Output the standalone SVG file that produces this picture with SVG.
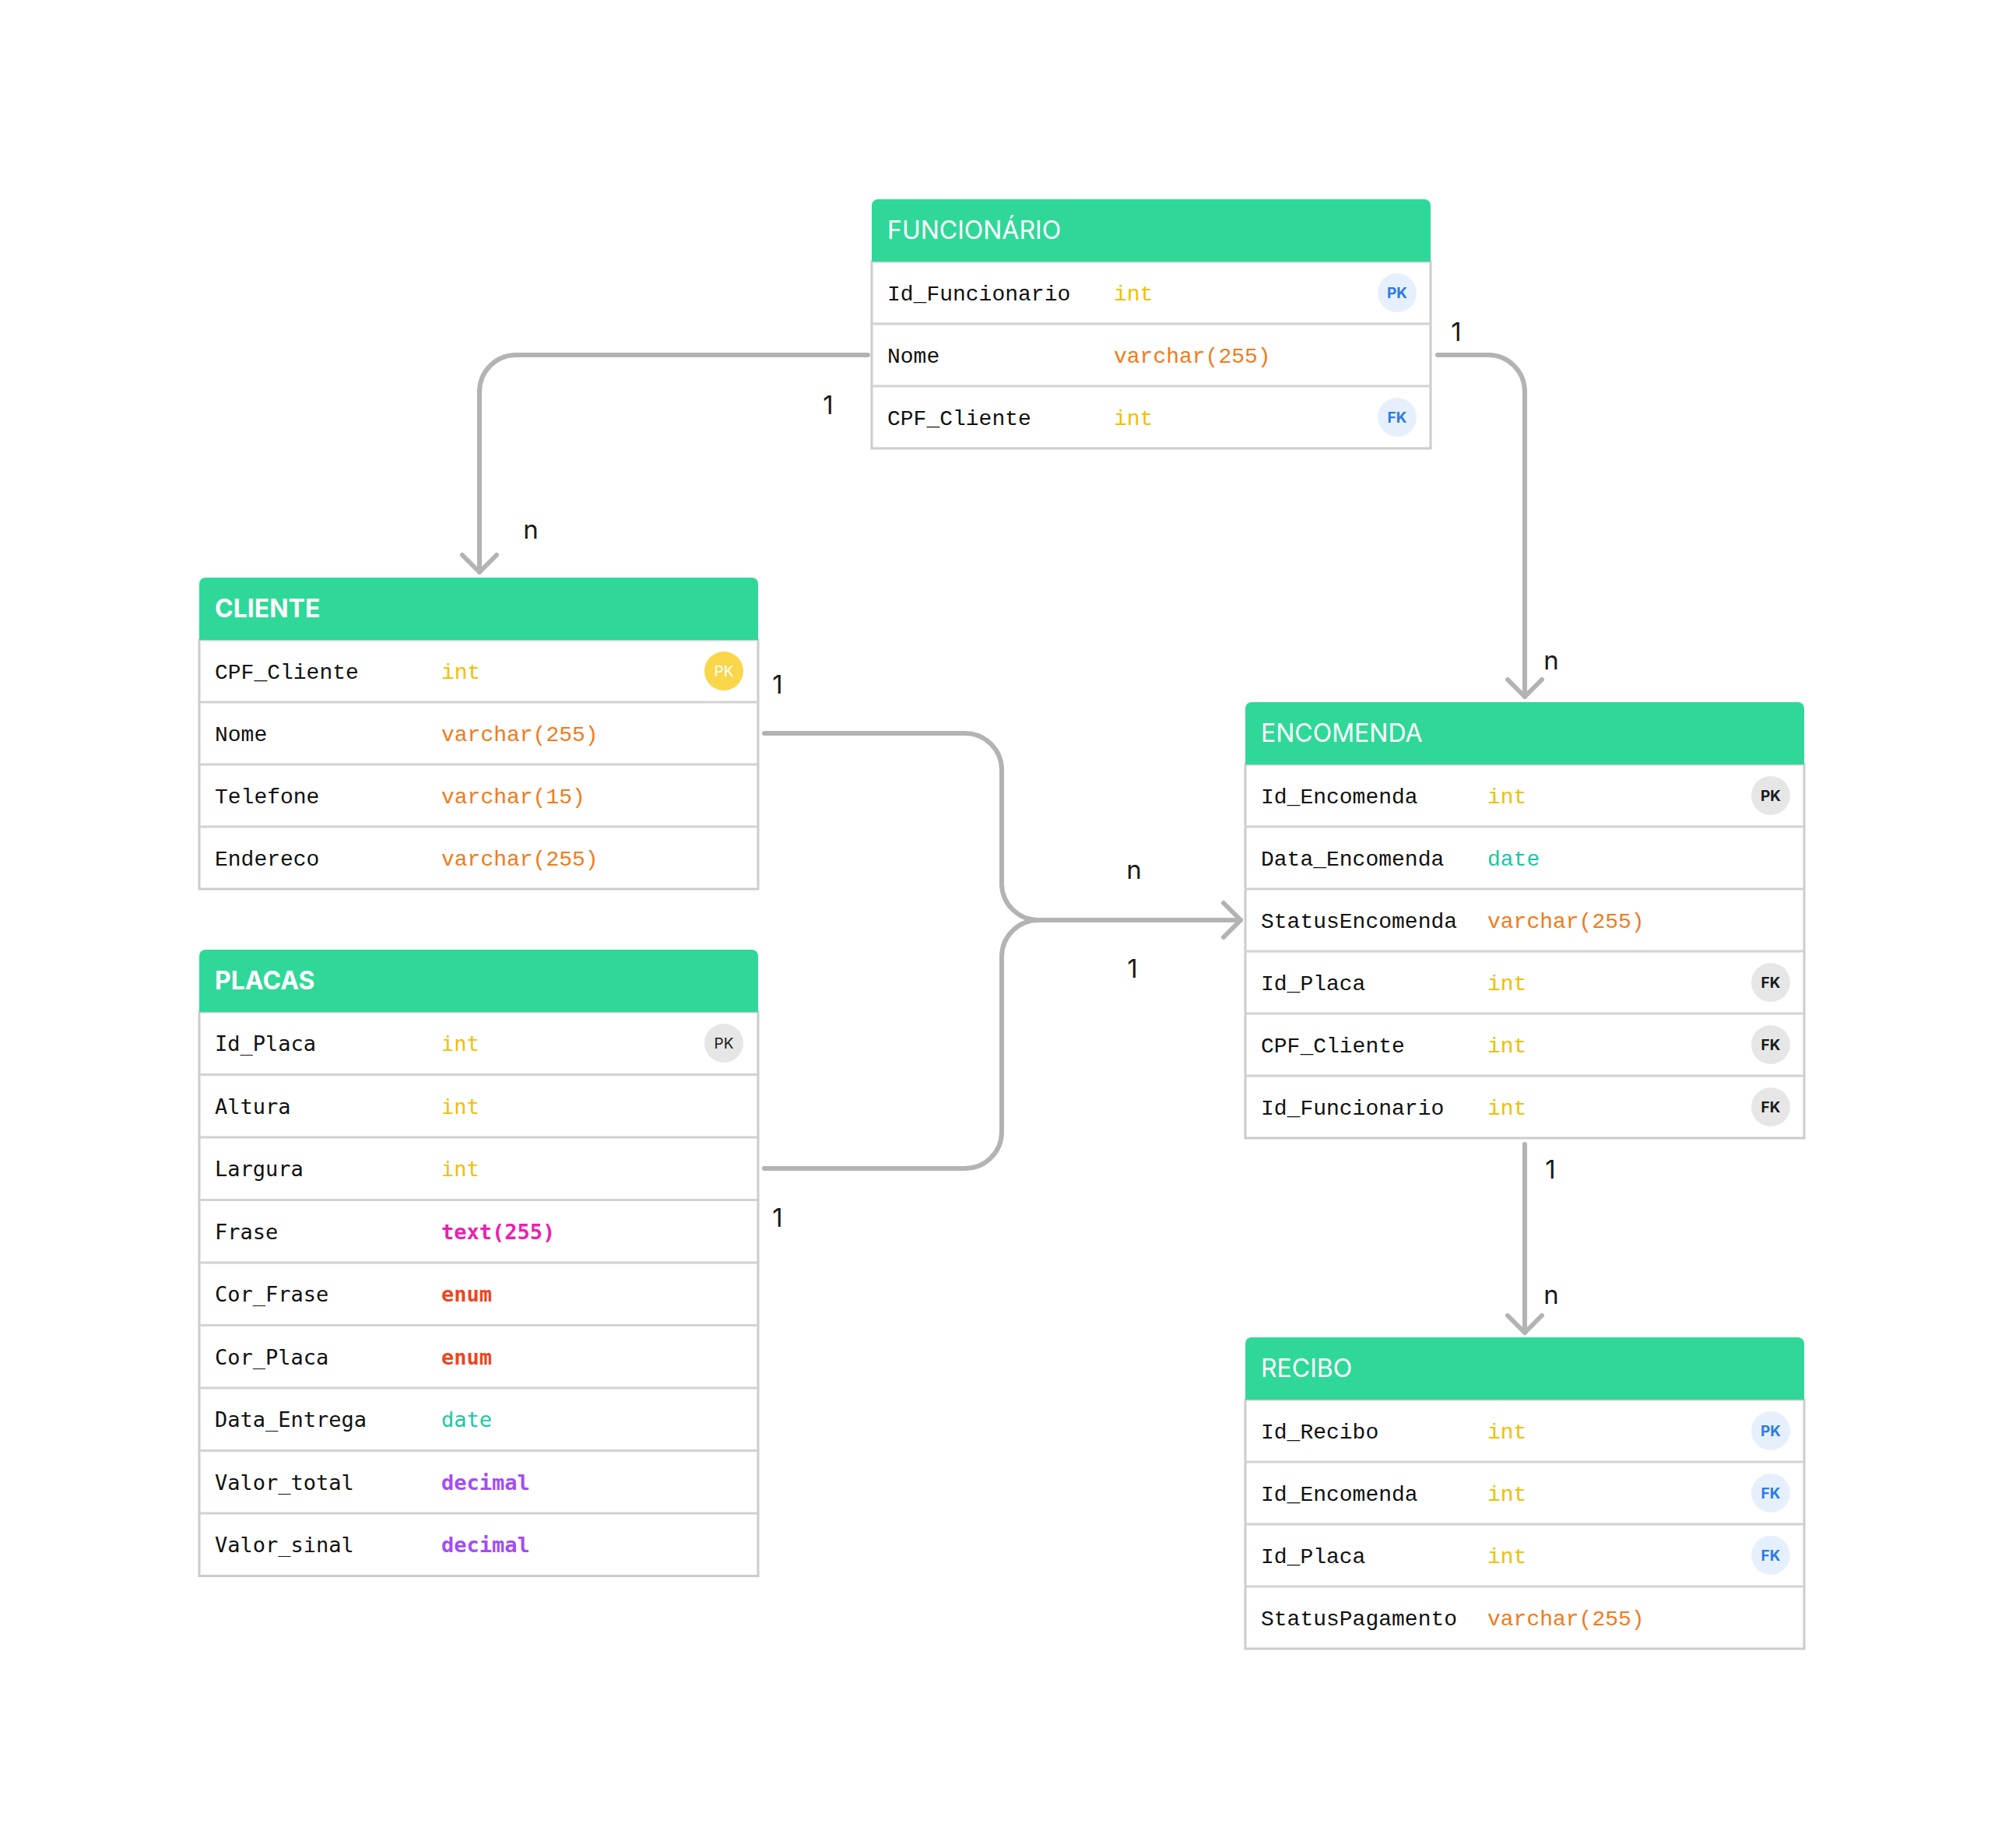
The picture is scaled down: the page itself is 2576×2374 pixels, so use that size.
<svg xmlns="http://www.w3.org/2000/svg" width="2576" height="2374" viewBox="0 0 2576 2374">
<style>
.hdr{fill:#2fd898}
.body{fill:#fff;stroke:#cccccc;stroke-width:3}
.sep{stroke:#d2d2d2;stroke-width:3}
.title{font-family:Inter,"Liberation Sans",sans-serif;font-size:32px;fill:#fff}
.tb{font-weight:700}
.f{font-family:"Liberation Mono",monospace;font-size:28px;fill:#111}
.pf{font-family:"DejaVu Sans Mono",monospace;font-size:27px;fill:#111}
.bold{font-weight:700}
.int{fill:#f0c000}
.varchar{fill:#f27a1a}
.date{fill:#17c9a3}
.txt{fill:#ec1fb0}
.enum{fill:#ef4422}
.dec{fill:#a44cf6}
.bb{fill:#e6f0fd}
.bbt{fill:#2b7be8;font-weight:700}
.bg{fill:#e6e6e6}
.bgt{fill:#1a1a1a;font-weight:700}
.by{fill:#f9d64a}
.byt{fill:#fff}
.bt{font-family:Inter,"Liberation Sans",sans-serif;font-size:19px;text-anchor:middle}
.conn{fill:none;stroke:#b3b3b3;stroke-width:6;stroke-linecap:round;stroke-linejoin:round}
.lbl{font-family:Inter,"Liberation Sans",sans-serif;font-size:33px;fill:#1a1a1a;text-anchor:middle}
</style>
<defs>
<marker id="arr" markerUnits="userSpaceOnUse" viewBox="-30 -30 40 60" refX="0" refY="0" markerWidth="40" markerHeight="60" orient="auto">
<path d="M-22,-22 L0,0 L-22,22" fill="none" stroke="#b3b3b3" stroke-width="6" stroke-linecap="round" stroke-linejoin="round"/>
</marker>
</defs>
<rect width="2576" height="2374" fill="#fff"/>

<g id="connectors">
<path class="conn" d="M1115 456 H663 A47 47 0 0 0 616 503 V735" marker-end="url(#arr)"/>
<path class="conn" d="M1847 456 H1912 A47 47 0 0 1 1959 503 V895" marker-end="url(#arr)"/>
<path class="conn" d="M982 942 H1240 A47 47 0 0 1 1287 989 V1135 A47 47 0 0 0 1334 1182 H1594" marker-end="url(#arr)"/>
<path class="conn" d="M982 1501 H1240 A47 47 0 0 0 1287 1454 V1229 A47 47 0 0 1 1334 1182"/>
<path class="conn" d="M1959 1470 V1712" marker-end="url(#arr)"/>
<text class="lbl" x="1064" y="532">1</text>
<text class="lbl" x="682" y="692">n</text>
<text class="lbl" x="1871" y="438">1</text>
<text class="lbl" x="1993" y="860">n</text>
<text class="lbl" x="999" y="891">1</text>
<text class="lbl" x="1457" y="1129">n</text>
<text class="lbl" x="1455" y="1256">1</text>
<text class="lbl" x="999" y="1576">1</text>
<text class="lbl" x="1992" y="1514">1</text>
<text class="lbl" x="1993" y="1675">n</text>
</g>

<g id="funcionario" transform="translate(1120,256)">
<rect class="body" x="0" y="80" width="718" height="240"/>
<path class="hdr" d="M0 80 V8 A8 8 0 0 1 8 0 H710 A8 8 0 0 1 718 8 V80 Z"/>
<line class="sep" x1="0" y1="160" x2="718" y2="160"/>
<line class="sep" x1="0" y1="240" x2="718" y2="240"/>
<text class="title" x="20" y="51">FUNCIONÁRIO</text>
<text class="f" x="20" y="130">Id_Funcionario</text><text class="f int" x="311" y="130">int</text>
<circle class="bb" cx="675" cy="120" r="25"/><text class="bt bbt" x="675" y="127">PK</text>
<text class="f" x="20" y="210">Nome</text><text class="f varchar" x="311" y="210">varchar(255)</text>
<text class="f" x="20" y="290">CPF_Cliente</text><text class="f int" x="311" y="290">int</text>
<circle class="bb" cx="675" cy="280" r="25"/><text class="bt bbt" x="675" y="287">FK</text>
</g>

<g id="cliente" transform="translate(256,742)">
<rect class="body" x="0" y="80" width="718" height="320"/>
<path class="hdr" d="M0 80 V8 A8 8 0 0 1 8 0 H710 A8 8 0 0 1 718 8 V80 Z"/>
<line class="sep" x1="0" y1="160" x2="718" y2="160"/>
<line class="sep" x1="0" y1="240" x2="718" y2="240"/>
<line class="sep" x1="0" y1="320" x2="718" y2="320"/>
<text class="title tb" x="20" y="51">CLIENTE</text>
<text class="f" x="20" y="130">CPF_Cliente</text><text class="f int" x="311" y="130">int</text>
<circle class="by" cx="674" cy="120" r="25"/><text class="bt byt" x="674" y="127">PK</text>
<text class="f" x="20" y="210">Nome</text><text class="f varchar" x="311" y="210">varchar(255)</text>
<text class="f" x="20" y="290">Telefone</text><text class="f varchar" x="311" y="290">varchar(15)</text>
<text class="f" x="20" y="370">Endereco</text><text class="f varchar" x="311" y="370">varchar(255)</text>
</g>

<g id="placas" transform="translate(256,1220)">
<rect class="body" x="0" y="80" width="718" height="724.5"/>
<path class="hdr" d="M0 80 V8 A8 8 0 0 1 8 0 H710 A8 8 0 0 1 718 8 V80 Z"/>
<line class="sep" x1="0" y1="160.5" x2="718" y2="160.5"/>
<line class="sep" x1="0" y1="241" x2="718" y2="241"/>
<line class="sep" x1="0" y1="321.5" x2="718" y2="321.5"/>
<line class="sep" x1="0" y1="402" x2="718" y2="402"/>
<line class="sep" x1="0" y1="482.5" x2="718" y2="482.5"/>
<line class="sep" x1="0" y1="563" x2="718" y2="563"/>
<line class="sep" x1="0" y1="643.5" x2="718" y2="643.5"/>
<line class="sep" x1="0" y1="724" x2="718" y2="724"/>
<text class="title tb" x="20" y="51">PLACAS</text>
<text class="pf" x="20" y="130">Id_Placa</text><text class="pf int" x="311" y="130">int</text>
<circle class="bg" cx="674" cy="120" r="25"/><text class="bt" x="674" y="127" fill="#1a1a1a">PK</text>
<text class="pf" x="20" y="210.5">Altura</text><text class="pf int" x="311" y="210.5">int</text>
<text class="pf" x="20" y="291">Largura</text><text class="pf int" x="311" y="291">int</text>
<text class="pf" x="20" y="371.5">Frase</text><text class="pf txt bold" x="311" y="371.5">text(255)</text>
<text class="pf" x="20" y="452">Cor_Frase</text><text class="pf enum bold" x="311" y="452">enum</text>
<text class="pf" x="20" y="532.5">Cor_Placa</text><text class="pf enum bold" x="311" y="532.5">enum</text>
<text class="pf" x="20" y="613">Data_Entrega</text><text class="pf date" x="311" y="613">date</text>
<text class="pf" x="20" y="693.5">Valor_total</text><text class="pf dec bold" x="311" y="693.5">decimal</text>
<text class="pf" x="20" y="774">Valor_sinal</text><text class="pf dec bold" x="311" y="774">decimal</text>
</g>

<g id="encomenda" transform="translate(1600,902)">
<rect class="body" x="0" y="80" width="718" height="480"/>
<path class="hdr" d="M0 80 V8 A8 8 0 0 1 8 0 H710 A8 8 0 0 1 718 8 V80 Z"/>
<line class="sep" x1="0" y1="160" x2="718" y2="160"/>
<line class="sep" x1="0" y1="240" x2="718" y2="240"/>
<line class="sep" x1="0" y1="320" x2="718" y2="320"/>
<line class="sep" x1="0" y1="400" x2="718" y2="400"/>
<line class="sep" x1="0" y1="480" x2="718" y2="480"/>
<text class="title" x="20" y="51">ENCOMENDA</text>
<text class="f" x="20" y="130">Id_Encomenda</text><text class="f int" x="311" y="130">int</text>
<circle class="bg" cx="675" cy="120" r="25"/><text class="bt bgt" x="675" y="127">PK</text>
<text class="f" x="20" y="210">Data_Encomenda</text><text class="f date" x="311" y="210">date</text>
<text class="f" x="20" y="290">StatusEncomenda</text><text class="f varchar" x="311" y="290">varchar(255)</text>
<text class="f" x="20" y="370">Id_Placa</text><text class="f int" x="311" y="370">int</text>
<circle class="bg" cx="675" cy="360" r="25"/><text class="bt bgt" x="675" y="367">FK</text>
<text class="f" x="20" y="450">CPF_Cliente</text><text class="f int" x="311" y="450">int</text>
<circle class="bg" cx="675" cy="440" r="25"/><text class="bt bgt" x="675" y="447">FK</text>
<text class="f" x="20" y="530">Id_Funcionario</text><text class="f int" x="311" y="530">int</text>
<circle class="bg" cx="675" cy="520" r="25"/><text class="bt bgt" x="675" y="527">FK</text>
</g>

<g id="recibo" transform="translate(1600,1718)">
<rect class="body" x="0" y="80" width="718" height="320"/>
<path class="hdr" d="M0 80 V8 A8 8 0 0 1 8 0 H710 A8 8 0 0 1 718 8 V80 Z"/>
<line class="sep" x1="0" y1="160" x2="718" y2="160"/>
<line class="sep" x1="0" y1="240" x2="718" y2="240"/>
<line class="sep" x1="0" y1="320" x2="718" y2="320"/>
<text class="title" x="20" y="51">RECIBO</text>
<text class="f" x="20" y="130">Id_Recibo</text><text class="f int" x="311" y="130">int</text>
<circle class="bb" cx="675" cy="120" r="25"/><text class="bt bbt" x="675" y="127">PK</text>
<text class="f" x="20" y="210">Id_Encomenda</text><text class="f int" x="311" y="210">int</text>
<circle class="bb" cx="675" cy="200" r="25"/><text class="bt bbt" x="675" y="207">FK</text>
<text class="f" x="20" y="290">Id_Placa</text><text class="f int" x="311" y="290">int</text>
<circle class="bb" cx="675" cy="280" r="25"/><text class="bt bbt" x="675" y="287">FK</text>
<text class="f" x="20" y="370">StatusPagamento</text><text class="f varchar" x="311" y="370">varchar(255)</text>
</g>
</svg>
